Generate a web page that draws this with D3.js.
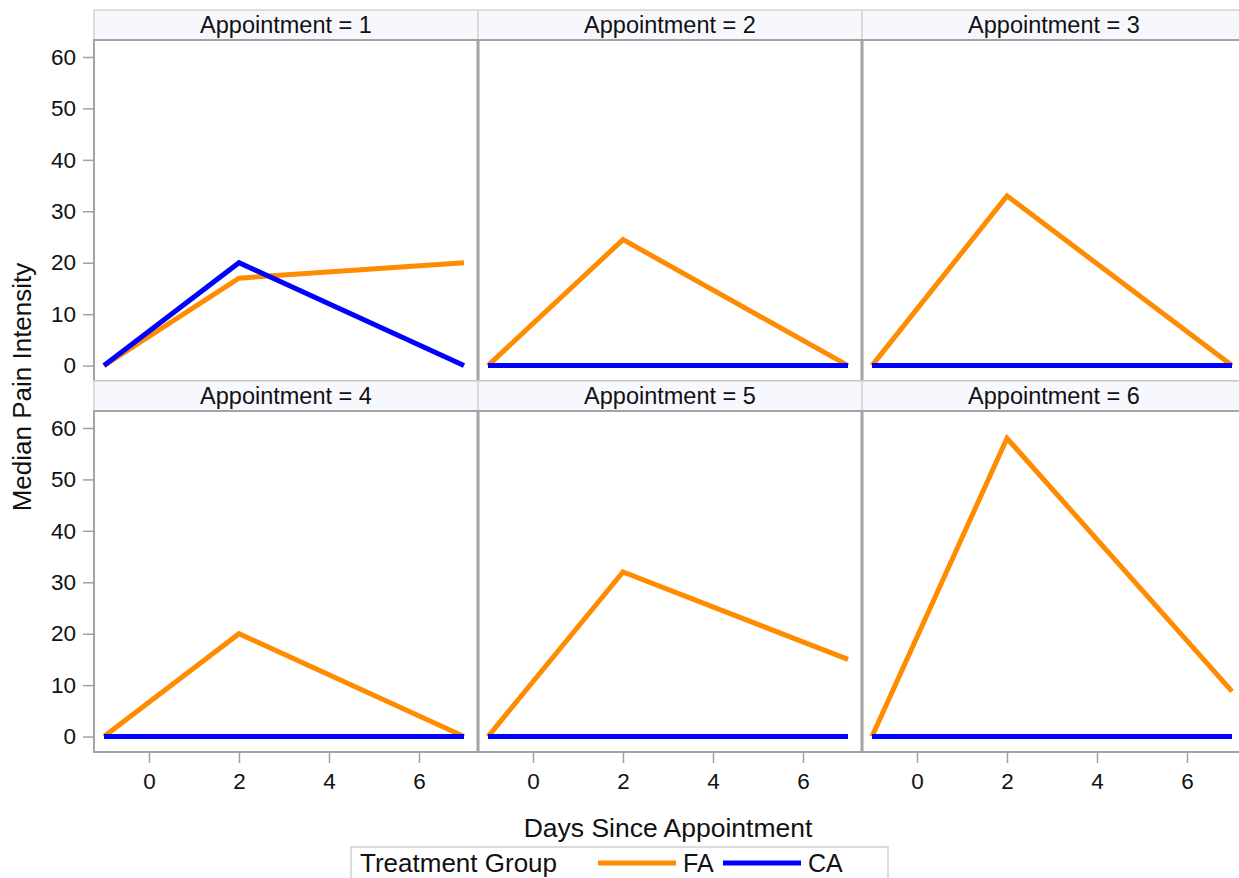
<!DOCTYPE html>
<html>
<head>
<meta charset="utf-8">
<script src="https://cdn.jsdelivr.net/npm/d3@7"></script>
<style>
  body { margin: 0; background: #fff; }
  svg { font-family: "Liberation Sans", Arial, sans-serif; }
</style>
</head>
<body>
<div id="chart"></div>
<script>
// data
const appointments = [1, 2, 3, 4, 5, 6]
const days = [-1, 2, 7]
const fa_values = [
	[0, 17, 20],
	[0, 24.5, 0],
	[0, 33, 0],
	[0, 20, 0],
	[0, 32, 15],
	[0, 58, 8.8]
]
const ca_values = [
	[0, 20, 0],
	[0, 0, 0],
	[0, 0, 0],
	[0, 0, 0],
	[0, 0, 0],
	[0, 0, 0]
]
const x_ticks = [0, 2, 4, 6]
const y_ticks = [0, 10, 20, 30, 40, 50, 60]
const groups = ['FA', 'CA']
const group_colours = {'FA': '#ff8c00', 'CA': '#0000ff'}

// layout
const width = 1239
const height = 878
const left = 94
const top_margin = 10
const col_width = 384
const header_height = 30
const plot_height = 341
const num_cols = 3
const font = '"Liberation Sans", Arial, sans-serif'

var svg = d3.select('#chart').append('svg')
	.attr('width', width)
	.attr('height', height)

var x = d3.scaleLinear().domain([-1.222, 7.311]).range([0, col_width])
var y = d3.scaleLinear().domain([-3, 63.3]).range([plot_height, 0])

var line = d3.line()
	.x((d, i) => x(days[i]))
	.y(d => y(d))

appointments.forEach((app, k) => {
	let col = k % num_cols
	let row = Math.floor(k / num_cols)
	let px = left + col*col_width
	let py = top_margin + row*(header_height + plot_height)

	let g = svg.append('g').attr('transform', `translate(${px},${py})`)

	// header cell
	g.append('rect')
		.attr('x', 0).attr('y', 0)
		.attr('width', col_width).attr('height', header_height)
		.attr('fill', '#f7f8fd')
		.attr('stroke', '#d4d4d4')
		.attr('stroke-width', 1.5)
	g.append('text')
		.attr('x', col_width/2)
		.attr('y', header_height/2 + 8)
		.attr('text-anchor', 'middle')
		.attr('font-size', '23.5px')
		.attr('fill', '#111')
		.text(`Appointment = ${app}`)

	let p = g.append('g').attr('transform', `translate(0,${header_height})`)

	// frame
	p.append('rect')
		.attr('x', 0).attr('y', 0)
		.attr('width', col_width).attr('height', plot_height)
		.attr('fill', 'none')
		.attr('stroke', '#a4a4a4')
		.attr('stroke-width', 2)
	// thicker divider on right side
	p.append('line')
		.attr('x1', col_width).attr('x2', col_width)
		.attr('y1', 0).attr('y2', plot_height)
		.attr('stroke', '#a0a0a0')
		.attr('stroke-width', 3)

	// clip lines to plot area
	let clip_id = 'clip' + k
	p.append('clipPath').attr('id', clip_id)
		.append('rect').attr('width', col_width).attr('height', plot_height)

	let series = [['FA', fa_values[k]], ['CA', ca_values[k]]]
	p.append('g').attr('clip-path', `url(#${clip_id})`)
		.selectAll('.series')
		.data(series)
		.enter().append('path')
		.attr('class', 'series')
		.attr('d', d => line(d[1]))
		.attr('fill', 'none')
		.attr('stroke', d => group_colours[d[0]])
		.attr('stroke-width', 5)
		.attr('stroke-linejoin', 'miter')

	// y axis on first column
	if (col == 0) {
		let ya = p.append('g')
			.call(d3.axisLeft(y).tickValues(y_ticks).tickSize(11).tickPadding(7))
		ya.select('.domain').remove()
		ya.selectAll('line').attr('stroke', '#a0a0a0').attr('stroke-width', 1.5)
		ya.selectAll('text').attr('font-size', '22.5px').attr('fill', '#111')
			.attr('font-family', font)
	}
	// x axis on bottom row
	if (row == 1) {
		let xa = p.append('g')
			.attr('transform', `translate(0,${plot_height})`)
			.call(d3.axisBottom(x).tickValues(x_ticks).tickSize(11).tickPadding(10))
		xa.select('.domain').remove()
		xa.selectAll('line').attr('stroke', '#a0a0a0').attr('stroke-width', 1.5)
		xa.selectAll('text').attr('font-size', '22.5px').attr('fill', '#111')
			.attr('font-family', font)
	}
})

// axis titles
svg.append('text')
	.attr('x', 668)
	.attr('y', 837)
	.attr('text-anchor', 'middle')
	.attr('font-size', '26.5px')
	.attr('fill', '#111')
	.text('Days Since Appointment')

svg.append('text')
	.attr('transform', 'translate(31,387) rotate(-90)')
	.attr('text-anchor', 'middle')
	.attr('font-size', '26px')
	.attr('fill', '#111')
	.text('Median Pain Intensity')

// legend
var legend = svg.append('g').attr('transform', 'translate(351,847)')
legend.append('rect')
	.attr('x', 0).attr('y', 0)
	.attr('width', 537).attr('height', 40)
	.attr('fill', '#fff')
	.attr('stroke', '#cfcfcf')
	.attr('stroke-width', 1.5)
legend.append('text')
	.attr('x', 9).attr('y', 25)
	.attr('font-size', '26px')
	.attr('fill', '#111')
	.text('Treatment Group')

var legend_x = [247, 372]
var item = legend.selectAll('.item')
	.data(groups)
	.enter().append('g')
	.attr('class', 'item')
	.attr('transform', (d, i) => `translate(${legend_x[i]},0)`)
item.append('line')
	.attr('x1', 0).attr('x2', 78)
	.attr('y1', 16).attr('y2', 16)
	.attr('stroke', d => group_colours[d])
	.attr('stroke-width', 5)
item.append('text')
	.attr('x', 85).attr('y', 25)
	.attr('font-size', '25px')
	.attr('fill', '#111')
	.text(d => d)
</script>
</body>
</html>
